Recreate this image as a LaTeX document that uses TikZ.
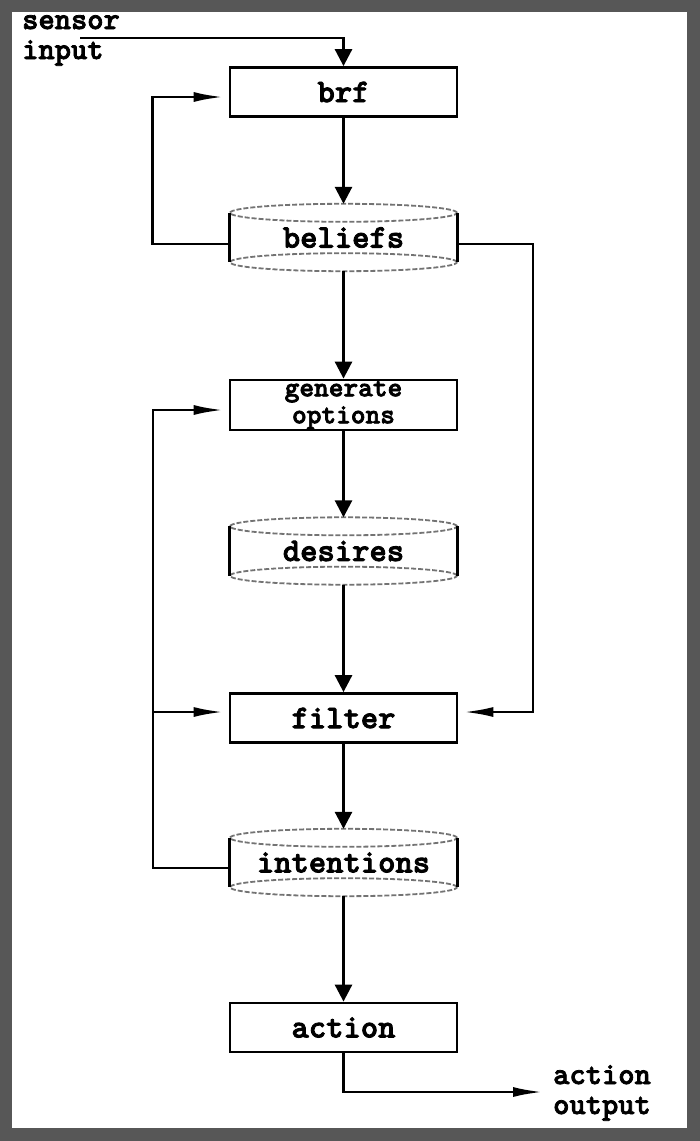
\documentclass[tikz,border=0pt]{standalone}
\usepackage{fontspec}
\newfontfamily\darktt{lmmonolt10-bold.otf}[FakeBold=2.5]
\usetikzlibrary{arrows.meta,calc}
\definecolor{frame}{HTML}{575757}
\tikzset{
  lbl/.style={font=\darktt\fontsize{33}{28}\selectfont, inner sep=0pt},
  side/.style={lbl, font=\darktt\fontsize{31}{28}\selectfont, anchor=base west},
  box/.style={lbl, draw, line width=2.8pt, minimum width=227pt, minimum height=49pt},
  cyl/.style={lbl, minimum width=227pt, minimum height=67pt},
  wire/.style={line width=2.8pt},
  varr/.style={wire, -{Triangle[width=17pt,length=17pt]}},
  harr/.style={wire, -{Latex[width=10pt,length=30pt]}, shorten >=5pt},
  rim/.style={draw=black!55, line width=1.8pt, dash pattern=on 5pt off 2pt},
}
\newcommand{\drawcylinder}[1]{%
  \draw[rim] ([yshift=-9pt]#1.north) ellipse [x radius=113.5pt, y radius=9pt];
  \draw[rim] ([yshift=9pt]#1.south) ellipse [x radius=113.5pt, y radius=9pt];
  \draw[wire] ([yshift=-9pt]#1.north west) -- ([yshift=9pt]#1.south west);
  \draw[wire] ([yshift=-9pt]#1.north east) -- ([yshift=9pt]#1.south east);
}
\begin{document}
\begin{tikzpicture}[x=1pt,y=-1pt]
  \useasboundingbox (0,0) rectangle (700,1141);
  \fill[frame] (0,0) rectangle (700,1141);
  \fill[white] (12,12) rectangle (687,1128);

  % nodes
  \node[side] (sensor) at (22,29) {sensor};
  \node[side] (input) at (22,59) {input};
  \node[box] (brf) at (343.5,92) {brf};
  \node[cyl] (beliefs) at (343.5,237.5) {beliefs};
  \node[box, minimum height=50pt, align=center, font=\darktt\fontsize{28}{27}\selectfont] (gen) at (343.5,405) {generate\\options};
  \node[cyl] (desires) at (343.5,551) {desires};
  \node[box] (filter) at (343.5,718) {filter};
  \node[cyl] (intentions) at (343.5,862.5) {intentions};
  \node[box] (action) at (343.5,1027.5) {action};
  \node[side] (aout1) at (553,1084) {action};
  \node[side] (aout2) at (553,1114) {output};

  \drawcylinder{beliefs}
  \drawcylinder{desires}
  \drawcylinder{intentions}

  % junction coordinates
  \coordinate (sin) at (80,38);
  \coordinate (rj) at (533,712);
  \coordinate (lj) at (153,410);
  \coordinate (lb) at (153,712);
  \coordinate (outend) at (548,1092);

  % vertical flow
  \draw[varr] (sin) -| (brf.north);
  \draw[varr] (brf.south) -- (beliefs.north);
  \draw[varr] (beliefs.south) -- (gen.north);
  \draw[varr] (gen.south) -- (desires.north);
  \draw[varr] (desires.south) -- (filter.north);
  \draw[varr] (filter.south) -- (intentions.north);
  \draw[varr] (intentions.south) -- (action.north);

  % feedback loops
  \draw[harr] ([yshift=-6.5pt]beliefs.west) -- ++(-77,0) |- ([yshift=-5pt]brf.west);
  \draw[harr] ([yshift=-6.5pt]beliefs.east) -| (rj) -- ([yshift=6pt]filter.east);
  \draw[harr] ([yshift=-5.5pt]intentions.west) -| (lj) -- ([yshift=-5pt]gen.west);
  \draw[harr] (lb) -- ([yshift=6pt]filter.west);
  \draw[harr] (action.south) |- (outend);
\end{tikzpicture}
\end{document}
